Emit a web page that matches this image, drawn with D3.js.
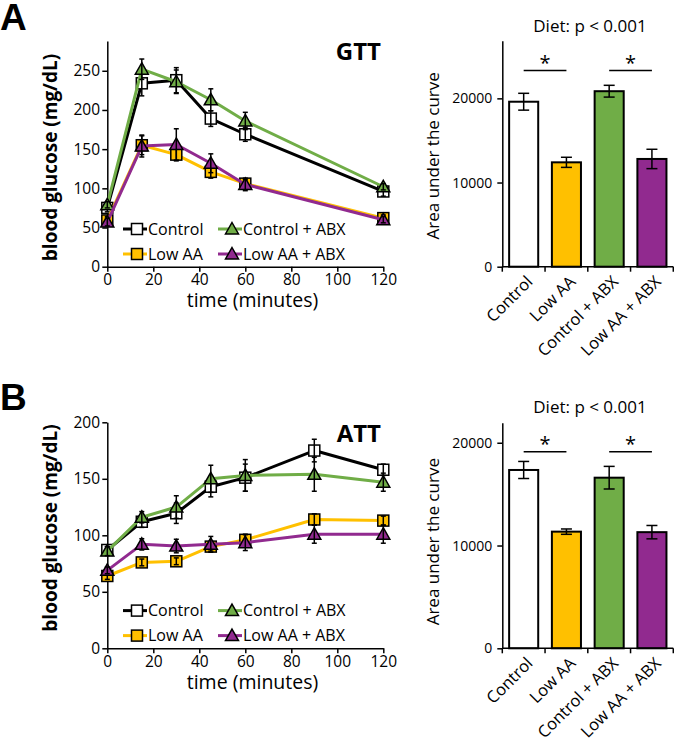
<!DOCTYPE html>
<html>
<head>
<meta charset="utf-8">
<script src="https://cdn.jsdelivr.net/npm/d3@7"></script>
<style>
  body { margin: 0; background: #fff; }
  svg { display: block; font-family: "Open Sans", sans-serif; }
  .axis path, .axis line { stroke: #000; stroke-width: 1.5; }
  .axis text { font-family: "Open Sans", sans-serif; fill: #000; }
</style>
</head>
<body>
<svg id="fig" width="674" height="738"></svg>
<script>
// ---- data
const groups = ["Control", "Low AA", "Control + ABX", "Low AA + ABX"];

const gttTimes = [0, 15, 30, 45, 60, 120];
const gttControl = [75, 234, 238, 189, 169, 96];
const gttControlErr = [5, 16, 16, 10, 9, 6];
const gttLowAA = [59, 155, 143, 121, 106, 62];
const gttLowAAErr = [5, 12, 8, 8, 5, 4];
const gttControlABX = [79, 252, 236, 213, 186, 102];
const gttControlABXErr = [4, 13, 15, 14, 11, 4];
const gttLowAAABX = [57, 154, 156, 132, 105, 60];
const gttLowAAABXErr = [5, 14, 20, 12, 8, 4];

const attTimes = [0, 15, 30, 45, 60, 90, 120];
const attControl = [87, 112, 119.5, 143, 151, 175, 158];
const attControlErr = [3, 5, 9, 9, 12, 10, 5];
const attLowAA = [64, 76, 77, 90, 96, 114, 113];
const attLowAAErr = [3, 3, 3, 4, 5, 5, 4];
const attControlABX = [86, 116, 125, 150, 153, 154, 147];
const attControlABXErr = [4, 5, 10, 12, 14, 15, 8];
const attLowAAABX = [69, 92, 90.5, 92, 93.5, 101, 101];
const attLowAAABXErr = [3, 5, 6, 7, 7, 8, 8];

const aucGtt = [19600, 12400, 20850, 12800];
const aucGttErr = [1000, 600, 700, 1150];
const aucAtt = [17350, 11350, 16600, 11300];
const aucAttErr = [830, 260, 1100, 650];

const timeTicks = [0, 20, 40, 60, 80, 100, 120];
const gttTicks = [0, 50, 100, 150, 200, 250];
const attTicks = [0, 50, 100, 150, 200];
const aucTicks = [0, 10000, 20000];
const sigPairs = [[0, 1], [2, 3]];
const sigGtt = 23300, sigAtt = 19120;

// ---- styles
const fills = ["#ffffff", "#ffc000", "#70ad47", "#912a8f"];
const lineCols = ["#000000", "#ffc000", "#70ad47", "#912a8f"];
const shapes = ["square", "square", "tri", "tri"];

const svg = d3.select("#fig");

function marker(g, shape, fill) {
  if (shape === "square") {
    return g.append("rect").attr("x", -5.5).attr("y", -5.5).attr("width", 11).attr("height", 11)
      .attr("fill", fill).attr("stroke", "#000").attr("stroke-width", 1.5);
  }
  return g.append("path").attr("d", "M0,-6.5L6.5,5L-6.5,5Z")
    .attr("fill", fill).attr("stroke", "#000").attr("stroke-width", 1.5);
}

function linePanel(o) {
  const x = d3.scaleLinear().domain([0, 120]).range([107.3, 383.3]);
  const y = d3.scaleLinear().domain([0, o.yMax]).range([o.y0, o.yTop]);
  const g = svg.append("g");

  g.append("g").attr("class", "axis").attr("transform", `translate(0,${o.y0})`)
    .call(d3.axisBottom(x).tickValues(timeTicks).tickSize(5).tickPadding(2.3).tickSizeOuter(0))
    .selectAll("text").style("font-size", "15.5px");
  g.append("g").attr("class", "axis").attr("transform", `translate(${x(0)},0)`)
    .call(d3.axisLeft(y).tickValues(o.ticks).tickSize(5).tickPadding(2.3).tickSizeOuter(0))
    .selectAll("text").style("font-size", "15.5px");

  const line = d3.line().x(d => x(d[0])).y(d => y(d[1]));
  o.series.forEach((s, i) => {
    const pts = o.times.map((t, j) => [t, s.v[j], s.e[j]]);
    g.append("path").attr("d", line(pts)).attr("fill", "none")
      .attr("stroke", lineCols[i]).attr("stroke-width", 3).attr("stroke-linejoin", "round");
    pts.forEach(p => {
      const m = g.append("g").attr("transform", `translate(${x(p[0])},${y(p[1])})`);
      marker(m, shapes[i], fills[i]);
      const eb = g.append("g").attr("stroke", "#000").attr("stroke-width", 1.5);
      eb.append("line").attr("x1", x(p[0])).attr("x2", x(p[0])).attr("y1", y(p[1] - p[2])).attr("y2", y(p[1] + p[2]));
      [p[1] - p[2], p[1] + p[2]].forEach(v => eb.append("line")
        .attr("x1", x(p[0]) - 2.5).attr("x2", x(p[0]) + 2.5).attr("y1", y(v)).attr("y2", y(v)));
    });
  });

  // legend
  const legPos = [[123, o.y0 - 37.7], [123, o.y0 - 12.7], [218, o.y0 - 37.7], [218, o.y0 - 12.7]];
  groups.forEach((name, i) => {
    const lg = g.append("g").attr("transform", `translate(${legPos[i][0]},${legPos[i][1]})`);
    lg.append("line").attr("x1", 0).attr("x2", 24).attr("stroke", lineCols[i]).attr("stroke-width", 3);
    marker(lg.append("g").attr("transform", "translate(14,0)"), shapes[i], fills[i]);
    lg.append("text").attr("x", 25).attr("dy", "0.36em").style("font-size", "16px").text(name);
  });

  g.append("text").attr("x", 252.5).attr("y", o.y0 + 40.5).attr("text-anchor", "middle")
    .style("font-size", "19.5px").text("time (minutes)");
  g.append("text").attr("transform", `translate(57,${o.labelY}) rotate(-90)`)
    .attr("text-anchor", "middle").style("font-size", "19px").style("font-weight", "700")
    .text("blood glucose (mg/dL)");
  g.append("text").attr("x", 381).attr("y", o.titleY).attr("text-anchor", "end")
    .style("font-size", "24px").style("font-weight", "700").text(o.title);
  g.append("text").attr("x", 0).attr("y", o.letterY)
    .style("font-family", "'Liberation Sans', Arial, sans-serif").style("font-size", "37px")
    .style("font-weight", "700").text(o.letter);
}

function barPanel(o) {
  const x = d3.scaleBand().domain(groups).range([502.3, 673.3]).paddingInner(0.32).paddingOuter(0.16);
  const y = d3.scaleLinear().domain([0, o.yMax]).range([o.y0, o.yTop]);
  const g = svg.append("g");

  g.selectAll("rect.bar").data(o.v).enter().append("rect").attr("class", "bar")
    .attr("x", (d, i) => x(groups[i])).attr("width", x.bandwidth())
    .attr("y", d => y(d)).attr("height", d => o.y0 - y(d))
    .attr("fill", (d, i) => fills[i]).attr("stroke", "#000").attr("stroke-width", 2);

  o.v.forEach((v, i) => {
    const cx = x(groups[i]) + x.bandwidth() / 2;
    const eb = g.append("g").attr("stroke", "#000").attr("stroke-width", 1.5);
    eb.append("line").attr("x1", cx).attr("x2", cx).attr("y1", y(v - o.e[i])).attr("y2", y(v + o.e[i]));
    [v - o.e[i], v + o.e[i]].forEach(w => eb.append("line")
      .attr("x1", cx - 5.5).attr("x2", cx + 5.5).attr("y1", y(w)).attr("y2", y(w)));
  });

  // axes
  const ax = g.append("g").attr("class", "axis");
  ax.append("line").attr("x1", 502.3).attr("x2", 673.3).attr("y1", o.y0).attr("y2", o.y0);
  d3.range(groups.length + 1).forEach(k => {
    const tx = 502.3 + k * x.step();
    ax.append("line").attr("x1", tx).attr("x2", tx).attr("y1", o.y0).attr("y2", o.y0 + 5);
  });
  groups.forEach(name => {
    const cx = x(name) + x.bandwidth() / 2;
    ax.append("text").attr("transform", `translate(${cx + 6},${o.y0 + 12}) rotate(-45)`)
      .attr("text-anchor", "end").attr("dy", "0.35em").style("font-size", "16.5px").text(name);
  });
  g.append("g").attr("class", "axis").attr("transform", "translate(502.3,0)")
    .call(d3.axisLeft(y).tickValues(aucTicks).tickFormat(d3.format("d"))
      .tickSize(5).tickPadding(5).tickSizeOuter(0))
    .selectAll("text").style("font-size", "14px");

  // significance
  sigPairs.forEach(pr => {
    const a = x(groups[pr[0]]) + x.bandwidth() / 2, b = x(groups[pr[1]]) + x.bandwidth() / 2;
    g.append("line").attr("x1", a).attr("x2", b).attr("y1", y(o.sig)).attr("y2", y(o.sig))
      .attr("stroke", "#000").attr("stroke-width", 1.5);
    g.append("text").attr("x", (a + b) / 2).attr("y", y(o.sig) - 1).attr("text-anchor", "middle")
      .style("font-size", "20px").text("*");
  });

  g.append("text").attr("x", 590).attr("y", o.dietY).attr("text-anchor", "middle")
    .style("font-size", "17px").text("Diet: p < 0.001");
  g.append("text").attr("transform", `translate(439,${o.labelY}) rotate(-90)`)
    .attr("text-anchor", "middle").style("font-size", "17px").text("Area under the curve");
}

linePanel({
  y0: 266.7, yTop: 41, yMax: 288, ticks: gttTicks, times: gttTimes,
  series: [
    { v: gttControl, e: gttControlErr }, { v: gttLowAA, e: gttLowAAErr },
    { v: gttControlABX, e: gttControlABXErr }, { v: gttLowAAABX, e: gttLowAAABXErr }
  ],
  title: "GTT", titleY: 60, letter: "A", letterY: 30, labelY: 157.5
});
linePanel({
  y0: 648.3, yTop: 422.3, yMax: 200, ticks: attTicks, times: attTimes,
  series: [
    { v: attControl, e: attControlErr }, { v: attLowAA, e: attLowAAErr },
    { v: attControlABX, e: attControlABXErr }, { v: attLowAAABX, e: attLowAAABXErr }
  ],
  title: "ATT", titleY: 441.7, letter: "B", letterY: 410, labelY: 528
});
barPanel({ y0: 266.7, yTop: 40.7, yMax: 26850, v: aucGtt, e: aucGttErr, sig: sigGtt, dietY: 31.7, labelY: 155.8 });
barPanel({ y0: 648.3, yTop: 422.7, yMax: 21950, v: aucAtt, e: aucAttErr, sig: sigAtt, dietY: 412.7, labelY: 541.7 });
</script>
</body>
</html>
